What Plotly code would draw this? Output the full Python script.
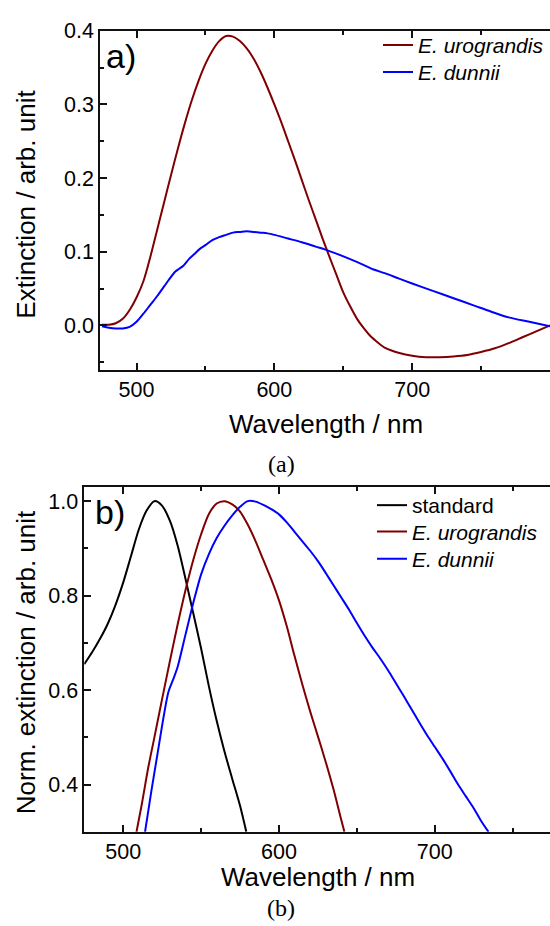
import plotly.graph_objects as go

# ---------------- Data ----------------
# Panel a: extinction spectra
wl_uro_a = [475, 480, 485, 490, 495, 500, 505, 510, 515, 520, 525, 530, 535, 540, 545, 550,
            555, 560, 565, 570, 575, 580, 585, 590, 595, 600, 605, 610, 615, 620, 625, 630,
            635, 640, 645, 650, 655, 660, 665, 670, 675, 680, 685, 690, 700, 710, 720, 730,
            740, 750, 760, 770, 780, 790, 800]
ext_uro_a = [0.001, 0.001, 0.003, 0.009, 0.021, 0.038, 0.060, 0.093, 0.130, 0.167, 0.204, 0.240,
             0.274, 0.305, 0.332, 0.355, 0.373, 0.386, 0.393, 0.392, 0.386, 0.376, 0.362, 0.344,
             0.323, 0.300, 0.276, 0.250, 0.224, 0.197, 0.170, 0.144, 0.118, 0.093, 0.069, 0.045,
             0.026, 0.009, -0.004, -0.015, -0.023, -0.030, -0.034, -0.037, -0.041, -0.043,
             -0.043, -0.042, -0.040, -0.036, -0.031, -0.024, -0.016, -0.008, 0.000]

wl_dun_a = [475, 480, 485, 490, 495, 500, 505, 510, 515, 520, 525, 528, 531, 534, 538, 542, 546,
            550, 555, 560, 565, 570, 575, 580, 585, 590, 595, 600, 610, 620, 630, 637, 645, 655,
            665, 672, 680, 690, 700, 715, 730, 745, 757, 770, 785, 800]
ext_dun_a = [-0.001, -0.003, -0.004, -0.004, -0.002, 0.005, 0.016, 0.028, 0.040, 0.053, 0.066,
             0.073, 0.077, 0.081, 0.090, 0.097, 0.104, 0.109, 0.116, 0.120, 0.123, 0.126, 0.127,
             0.128, 0.127, 0.126, 0.125, 0.123, 0.118, 0.113, 0.107, 0.103, 0.0975, 0.090, 0.082,
             0.076, 0.071, 0.064, 0.057, 0.047, 0.037, 0.027, 0.019, 0.011, 0.005, -0.001]

# Panel b: normalized extinction
wl_std_b = [475, 480, 485, 490, 495, 500, 505, 510, 515, 520, 525, 530, 535, 540, 545, 550, 555,
            560, 565, 570, 575, 579]
ext_std_b = [0.655, 0.680, 0.708, 0.740, 0.780, 0.828, 0.884, 0.940, 0.980, 1.000, 0.990, 0.958,
             0.905, 0.835, 0.762, 0.688, 0.608, 0.535, 0.470, 0.412, 0.355, 0.300]

wl_uro_b = [508.5, 512, 516, 520, 525, 530, 535, 540, 545, 550, 555, 560, 565, 570, 575, 580,
            585, 590, 595, 600, 605, 610, 615, 620, 625, 630, 635, 640, 642]
ext_uro_b = [0.300, 0.360, 0.435, 0.500, 0.582, 0.662, 0.740, 0.812, 0.876, 0.930, 0.973, 0.995,
             1.000, 0.993, 0.978, 0.950, 0.915, 0.875, 0.835, 0.790, 0.735, 0.672, 0.612, 0.555,
             0.502, 0.448, 0.390, 0.325, 0.300]

wl_dun_b = [514, 518, 522, 526, 529, 532, 535, 540, 545, 550, 555, 560, 565, 570, 575, 580, 585,
            590, 595, 600, 605, 610, 615, 620, 625, 630, 635, 640, 645, 650, 655, 660, 665, 670,
            675, 680, 685, 690, 695, 700, 705, 710, 715, 720, 725, 730, 734.5]
ext_dun_b = [0.300, 0.385, 0.465, 0.545, 0.596, 0.622, 0.650, 0.718, 0.785, 0.845, 0.888, 0.922,
             0.948, 0.970, 0.988, 1.000, 0.999, 0.992, 0.983, 0.972, 0.955, 0.935, 0.915, 0.895,
             0.873, 0.848, 0.822, 0.796, 0.770, 0.742, 0.715, 0.690, 0.667, 0.642, 0.615, 0.588,
             0.560, 0.532, 0.505, 0.480, 0.455, 0.428, 0.400, 0.375, 0.350, 0.322, 0.300]

name_uro = "<i>E. urograndis</i>"
name_dun = "<i>E. dunnii</i>"
name_std = "standard"

# ---------------- Figure ----------------
W, H = 550, 926
WINE = "#800000"
BLUE = "#0000FF"
FONT = "Liberation Sans, Arial, sans-serif"

def px_x(p):
    return p / W

def px_y(p):
    return 1 - p / H

fig = go.Figure()
traces = [
    (wl_uro_a, ext_uro_a, name_uro, WINE, "x", "y", "legend"),
    (wl_dun_a, ext_dun_a, name_dun, BLUE, "x", "y", "legend2"),
    (wl_std_b, ext_std_b, name_std, "black", "x2", "y2", "legend3"),
    (wl_uro_b, ext_uro_b, name_uro, WINE, "x2", "y2", "legend4"),
    (wl_dun_b, ext_dun_b, name_dun, BLUE, "x2", "y2", "legend5"),
]
for xs, ys, nm, col, xa, ya, lg in traces:
    fig.add_trace(go.Scatter(x=xs, y=ys, mode="lines", name=nm,
                             line=dict(color=col, width=2, shape="spline", smoothing=0.8),
                             xaxis=xa, yaxis=ya, legend=lg))

axis_common = dict(
    showline=True, linecolor="#111", linewidth=1.5,
    ticks="inside", ticklen=7, tickwidth=1.5, tickcolor="#111",
    showgrid=False, zeroline=False,
    tickfont=dict(family=FONT, size=21.5, color="black"),
)
minor_common = dict(ticks="inside", ticklen=4, tickwidth=1.5, tickcolor="#111")

def leg(x_px, top_px):
    return dict(x=px_x(x_px), y=px_y(top_px), xanchor="left", yanchor="top",
                bgcolor="rgba(0,0,0,0)", borderwidth=0, itemwidth=30,
                font=dict(family=FONT, size=21, color="black"))

fig.update_layout(
    width=W, height=H, autosize=False,
    margin=dict(l=0, r=0, t=0, b=0, pad=0),
    paper_bgcolor="white", plot_bgcolor="white",
    font=dict(family=FONT, color="black"),
    xaxis=dict(domain=[px_x(100), 1], range=[473.5, 800], anchor="y",
               tick0=500, dtick=100, mirror="ticks",
               minor=dict(dtick=50, tick0=500, **minor_common),
               **axis_common),
    yaxis=dict(domain=[px_y(363), px_y(20)], range=[-0.06, 0.4], anchor="x",
               tick0=0, dtick=0.1, tickformat=".1f",
               minor=dict(dtick=0.05, **minor_common),
               **axis_common),
    xaxis2=dict(domain=[px_x(84.3), 1], range=[475, 774], anchor="y2",
                tick0=500, dtick=100, mirror="ticks",
                minor=dict(dtick=50, tick0=500, **minor_common),
                **axis_common),
    yaxis2=dict(domain=[px_y(830.7), px_y(481.7)], range=[0.3, 1.03], anchor="x2",
                tick0=0, dtick=0.2, tickformat=".1f",
                minor=dict(dtick=0.1, **minor_common),
                **axis_common),
    legend=leg(378, 14),
    legend2=leg(378, 41.3),
    legend3=leg(372, 479.7),
    legend4=leg(372, 506.3),
    legend5=leg(372, 534),
    showlegend=True,
)

annotations = [
    # axis titles
    dict(text="Wavelength / nm", x=px_x(326), y=px_y(418), xref="paper", yref="paper",
         showarrow=False, xanchor="center", yanchor="middle",
         font=dict(family=FONT, size=26, color="black")),
    dict(text="Extinction / arb. unit", x=px_x(26), y=px_y(196), xref="paper", yref="paper",
         showarrow=False, xanchor="center", yanchor="middle", textangle=-90,
         font=dict(family=FONT, size=26, color="black")),
    dict(text="Wavelength / nm", x=px_x(318), y=px_y(876), xref="paper", yref="paper",
         showarrow=False, xanchor="center", yanchor="middle",
         font=dict(family=FONT, size=26, color="black")),
    dict(text="Norm. extinction / arb. unit", x=px_x(26), y=px_y(659), xref="paper", yref="paper",
         showarrow=False, xanchor="center", yanchor="middle", textangle=-90,
         font=dict(family=FONT, size=26, color="black")),
    # panel labels
    dict(text="a)", x=px_x(104), y=px_y(46), xref="paper", yref="paper",
         showarrow=False, xanchor="left", yanchor="middle",
         font=dict(family=FONT, size=34, color="black")),
    dict(text="b)", x=px_x(93), y=px_y(507), xref="paper", yref="paper",
         showarrow=False, xanchor="left", yanchor="middle",
         font=dict(family=FONT, size=34, color="black")),
    # captions
    dict(text="(a)", x=px_x(281), y=px_y(458), xref="paper", yref="paper",
         showarrow=False, xanchor="center", yanchor="middle",
         font=dict(family="Liberation Serif, Times New Roman, serif", size=24, color="black")),
    dict(text="(b)", x=px_x(281), y=px_y(908), xref="paper", yref="paper",
         showarrow=False, xanchor="center", yanchor="middle",
         font=dict(family="Liberation Serif, Times New Roman, serif", size=24, color="black")),
]
fig.update_layout(annotations=annotations)

fig.write_html("out.html", config={"displayModeBar": False})

# remove default page margins so the 550x926 figure fills the window exactly
with open("out.html", "r", encoding="utf-8") as f:
    html = f.read()
html = html.replace("<body>", '<body style="margin:0;padding:0;overflow:hidden;">', 1)
with open("out.html", "w", encoding="utf-8") as f:
    f.write(html)
